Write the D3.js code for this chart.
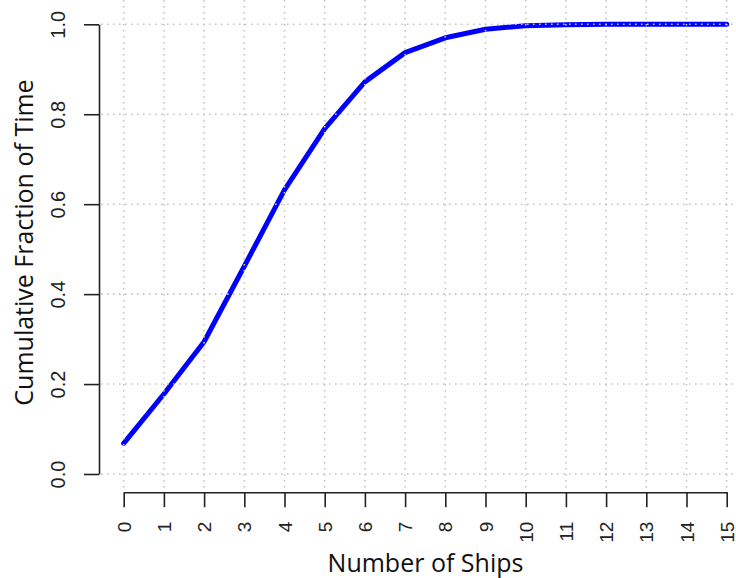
<!DOCTYPE html>
<html>
<head>
<meta charset="utf-8">
<script src="https://cdn.jsdelivr.net/npm/d3@7"></script>
<style>
  html, body { margin: 0; padding: 0; background: #fff; }
  svg { display: block; }
</style>
</head>
<body>
<svg id="chart" width="736" height="578"></svg>
<script>
// Cumulative fraction of time vs. number of ships
const ships = [0, 1, 2, 3, 4, 5, 6, 7, 8, 9, 10, 11, 12, 13, 14, 15];
const cumFraction = [0.068, 0.178, 0.294, 0.462, 0.632, 0.768, 0.872, 0.937,
                     0.970, 0.989, 0.997, 0.999, 1.000, 1.000, 1.000, 1.000];
const yTicks = [0, 0.2, 0.4, 0.6, 0.8, 1.0];
const xTicks = ships;

const svg = d3.select("#chart");

const x = d3.scaleLinear().domain([0, 15]).range([123.7, 726.7]);
const y = d3.scaleLinear().domain([0, 1]).range([474, 24.3]);

const axisColor = "#222";
const tickFont = "'Liberation Sans', Arial, sans-serif";
const titleFont = "'Open Sans', sans-serif";

// data line
const line = d3.line().x((d, i) => x(ships[i])).y(d => y(d));
svg.append("path")
  .datum(cumFraction)
  .attr("fill", "none")
  .attr("stroke", "#0000ff")
  .attr("stroke-width", 5)
  .attr("stroke-linejoin", "round")
  .attr("stroke-linecap", "round")
  .attr("d", line);

// dotted grid, drawn over the line
const grid = svg.append("g")
  .attr("stroke", "#c4c4c4")
  .attr("stroke-width", 1.6)
  .attr("stroke-dasharray", "1.6,4.4")
  .attr("fill", "none");
grid.selectAll("line.v").data(xTicks).join("line")
  .attr("class", "v")
  .attr("x1", d => x(d)).attr("x2", d => x(d))
  .attr("y1", 0).attr("y2", 490);
grid.selectAll("line.h").data(yTicks).join("line")
  .attr("class", "h")
  .attr("x1", 101).attr("x2", 736)
  .attr("y1", d => y(d)).attr("y2", d => y(d));

// y axis
const yAxis = svg.append("g")
  .attr("transform", "translate(99,0)")
  .call(d3.axisLeft(y).tickValues(yTicks).tickSize(15).tickSizeOuter(0)
    .tickFormat(d3.format(".1f")));
yAxis.select(".domain").attr("stroke", axisColor).attr("stroke-width", 1.6);
yAxis.selectAll(".tick line").attr("stroke", axisColor).attr("stroke-width", 1.6);
yAxis.selectAll(".tick text")
  .attr("x", null).attr("dy", null)
  .attr("transform", "translate(-34,0) rotate(-90)")
  .attr("text-anchor", "middle")
  .attr("fill", axisColor)
  .style("font-family", tickFont)
  .style("font-size", "20px");

// x axis
const xAxis = svg.append("g")
  .attr("transform", "translate(0,492.2)")
  .call(d3.axisBottom(x).tickValues(xTicks).tickSize(15).tickSizeOuter(0)
    .tickFormat(d3.format("d")));
xAxis.select(".domain").attr("stroke", axisColor).attr("stroke-width", 1.6);
xAxis.selectAll(".tick line").attr("stroke", axisColor).attr("stroke-width", 1.6);
xAxis.selectAll(".tick text")
  .attr("y", null).attr("dy", "0.35em")
  .attr("transform", "translate(0,29.5) rotate(-90)")
  .attr("text-anchor", "end")
  .attr("fill", axisColor)
  .style("font-family", tickFont)
  .style("font-size", "19px");

// axis titles
svg.append("text")
  .attr("transform", "translate(33,242.5) rotate(-90)")
  .attr("text-anchor", "middle")
  .attr("fill", "#111")
  .style("font-family", titleFont)
  .style("font-size", "25px")
  .text("Cumulative Fraction of Time");

svg.append("text")
  .attr("x", 425.5).attr("y", 571.5)
  .attr("text-anchor", "middle")
  .attr("fill", "#111")
  .style("font-family", titleFont)
  .style("font-size", "25px")
  .text("Number of Ships");
</script>
</body>
</html>
